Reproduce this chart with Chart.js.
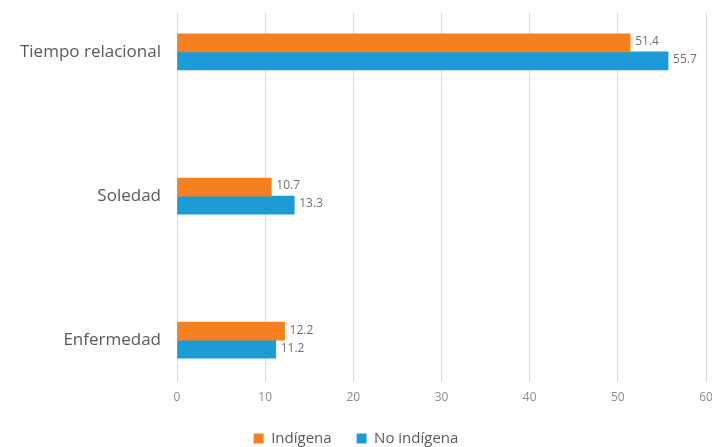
<!DOCTYPE html>
<html>
<head>
<meta charset="utf-8">
<script src="https://cdn.jsdelivr.net/npm/chart.js@4/dist/chart.umd.min.js"></script>
<style>
  body { margin: 0; background: #fff; }
  #wrap { width: 712px; height: 447px; }
</style>
</head>
<body>
<div id="wrap"><canvas id="chart" width="712" height="447"></canvas></div>
<script>
// Data
const categories = ['Tiempo relacional', 'Soledad', 'Enfermedad'];
const indigena = [51.4, 10.7, 12.2];
const noIndigena = [55.7, 13.3, 11.2];
const xMin = 0, xMax = 60, xStep = 10;

const orange = '#F58020';
const blue = '#1C9BD7';

// Value labels at the end of each bar
const valueLabels = {
    id: 'valueLabels',
    afterDatasetsDraw(chart) {
        const ctx = chart.ctx;
        ctx.save();
        ctx.font = '12px "Open Sans"';
        ctx.fillStyle = '#707070';
        ctx.textBaseline = 'middle';
        chart.data.datasets.forEach(function(ds, i) {
            chart.getDatasetMeta(i).data.forEach(function(bar, j) {
                ctx.fillText(ds.data[j].x.toFixed(1), bar.x + 5, bar.y - 1);
            });
        });
        ctx.restore();
    }
};

const ctx = document.getElementById('chart').getContext('2d');
const chart = new Chart(ctx, {
    type: 'bar',
    data: {
        datasets: [{
            label: 'Indígena',
            data: indigena.map((v, i) => ({ x: v, y: i })),
            backgroundColor: orange,
            barThickness: 18
        }, {
            label: 'No indígena',
            data: noIndigena.map((v, i) => ({ x: v, y: i })),
            backgroundColor: blue,
            barThickness: 18
        }]
    },
    options: {
        indexAxis: 'y',
        responsive: false,
        animation: false,
        layout: { padding: { top: 13, left: 0, right: 0, bottom: -9 } },
        scales: {
            x: {
                min: xMin,
                max: xMax,
                ticks: { stepSize: xStep, color: '#8c8c8c', font: { family: 'Open Sans', size: 12 }, padding: 8 },
                grid: { color: '#d9d9d9', drawTicks: false },
                border: { display: false },
                afterFit: function(scale) {
                    scale.height = 24;
                    scale.paddingLeft = 0;
                    scale.paddingRight = 6;
                }
            },
            y: {
                type: 'linear',
                reverse: true,
                offset: false,
                min: -0.27,
                max: 2.29,
                afterBuildTicks: function(scale) {
                    scale.ticks = categories.map((c, i) => ({ value: i }));
                },
                afterFit: function(scale) {
                    scale.width = 177;
                    scale.paddingTop = 0;
                    scale.paddingBottom = 0;
                },
                ticks: {
                    callback: (v) => categories[v],
                    color: '#595959',
                    font: { family: 'Open Sans', size: 17 },
                    padding: 16
                },
                grid: { display: false, drawTicks: false },
                border: { display: false }
            }
        },
        plugins: {
            legend: {
                position: 'bottom',
                labels: {
                    boxWidth: 10,
                    boxHeight: 10,
                    color: '#595959',
                    font: { family: 'Open Sans', size: 15 },
                    padding: 25
                }
            },
            tooltip: { enabled: false }
        }
    },
    plugins: [valueLabels]
});
</script>
</body>
</html>
